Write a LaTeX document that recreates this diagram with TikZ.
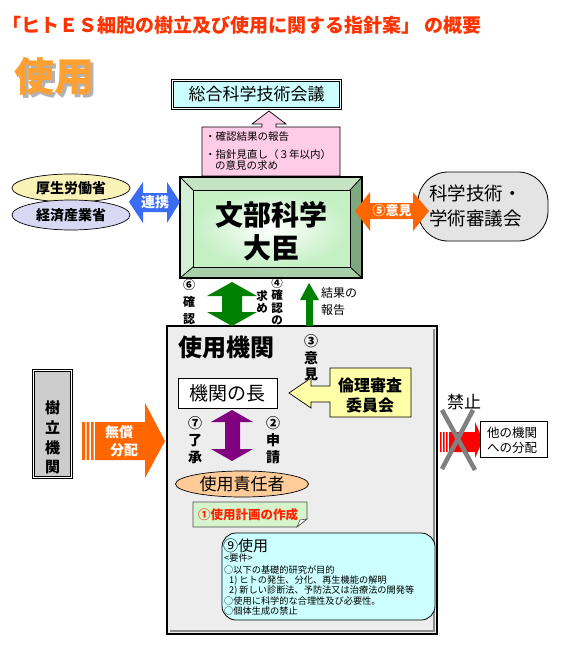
\documentclass[tikz,border=0pt]{standalone}
\usepackage{fontspec}
\setmainfont{Noto Sans CJK JP}
\usetikzlibrary{shapes.geometric}
\newcommand{\fs}[2]{\fontsize{#1}{#2}\selectfont}
\definecolor{titlered}{HTML}{FF3300}
\definecolor{useorange}{HTML}{FFA030}
\definecolor{lightcyan}{HTML}{CCFFFF}
\definecolor{pinkfill}{HTML}{FFCCE8}
\definecolor{yellowell}{HTML}{FAF3B8}
\definecolor{lavell}{HTML}{D8D8F4}
\definecolor{linkblue}{HTML}{3A6CF4}
\definecolor{advorange}{HTML}{FF6600}
\definecolor{marble}{HTML}{E4E4E4}
\definecolor{boxgrey}{HTML}{EDEDED}
\definecolor{darkgreen}{HTML}{008000}
\definecolor{arrowpurple}{HTML}{800080}
\definecolor{calloutyellow}{HTML}{FFFFA8}
\definecolor{peach}{HTML}{FFCC99}
\definecolor{notegreen}{HTML}{D6F4CC}
\definecolor{notered}{HTML}{FF2200}
\definecolor{pillargrey}{HTML}{CCCCCC}
\definecolor{bevtop}{HTML}{C4E4C4}
\definecolor{bevleft}{HTML}{D4F0D4}
\definecolor{bevright}{HTML}{80A880}
\definecolor{bevbottom}{HTML}{A8D0A8}
\definecolor{innergreen}{HTML}{C4F0C4}
\begin{document}
\begin{tikzpicture}[x=1pt,y=-1pt,every node/.style={inner sep=0pt}]
\tikzset{
  thinbox/.style={draw=black,line width=0.7pt},
  vtext/.style={align=center,font=\fs{14}{17}\bfseries},
  whitebold/.style={text=white,font=\fs{14}{18}\bfseries,align=center},
  reqline/.style={anchor=west,font=\fs{9.2}{9.2}},
}
\useasboundingbox[fill=white] (0,0) rectangle (560,650);

% title
\node[anchor=west,text=titlered,font=\fs{19}{19}\bfseries] (title) at (2,25)
  {「ヒトＥＳ細胞の樹立及び使用に関する指針案」\ の概要};

% big heading with shadow (one node)
\node[font=\fs{40}{40}\bfseries] (use) at (54.5,77.5)
  {\makebox[0pt][l]{\raisebox{-3pt}{\hspace{3pt}\textcolor{black!30}{使用}}}\textcolor{useorange}{使用}};

% CSTI box
\node[draw,double,double distance=1.2pt,line width=0.8pt,fill=lightcyan,
      minimum width=168pt,minimum height=28pt,font=\fs{17}{17}] (csti) at (256.5,94.5) {総合科学技術会議};

% pink callout arrow
\path[thinbox,fill=pinkfill] (202,127) -- (262,127) -- (262,124) -- (252,124) -- (269,111)
  -- (286,124) -- (276,124) -- (276,127) -- (340,127) -- (340,176) -- (202,176) -- cycle;
\node[anchor=west,font=\fs{10.5}{10.5}] (rep1) at (205,137) {・確認結果の報告};
\node[anchor=west,font=\fs{10.5}{10.5}] (rep2) at (205,155) {・指針見直し（３年以内）};
\node[anchor=west,font=\fs{10.5}{10.5}] (rep3) at (215,166) {の意見の求め};

% ministries ellipses
\node[ellipse,draw,line width=0.7pt,fill=yellowell,minimum width=118pt,minimum height=28pt,
      font=\fs{14}{14}\bfseries] (mhlw) at (71,188) {厚生労働省};
\node[ellipse,draw,line width=0.7pt,fill=lavell,minimum width=118pt,minimum height=30pt,
      font=\fs{14}{14}\bfseries] (meti) at (71,215) {経済産業省};

% main box (MEXT minister)
\path[fill=bevtop] (180,177) -- (362,177) -- (350,190) -- (193,190) -- cycle;
\path[fill=bevleft] (180,177) -- (193,190) -- (193,267) -- (180,278) -- cycle;
\path[fill=bevright] (362,177) -- (362,278) -- (350,267) -- (350,190) -- cycle;
\path[fill=bevbottom] (180,278) -- (362,278) -- (350,267) -- (193,267) -- cycle;
\shade[inner color=white,outer color=innergreen] (193,190) rectangle (350,267);
\draw[line width=1.4pt] (180,177) rectangle (362,278);
\draw[line width=1pt] (193,190) rectangle (350,267);
\draw[line width=0.8pt] (180,177) -- (193,190) (362,177) -- (350,190)
  (180,278) -- (193,267) (362,278) -- (350,267);
\node[align=center,font=\fs{28}{33}\bfseries] (mext) at (271,231) {文部科学\\大臣};

% liaison arrow
\path[fill=linkblue] (129,202) -- (143,182) -- (143,193) -- (167,193) -- (167,182) -- (180,202)
  -- (167,223) -- (167,212) -- (143,212) -- (143,223) -- cycle;
\node[whitebold] (liaison) at (155,202) {連携};

% council
\node[draw,line width=0.8pt,fill=marble,rounded corners=30pt,minimum width=130pt,minimum height=69pt] (council) at (483,206.5) {};
\node[anchor=west,align=left,font=\fs{18.5}{25}] (counciltext) at (429,206) {科学技術・\\学術審議会};

% opinion arrow
\path[fill=advorange] (355,211) -- (370,192) -- (370,203) -- (413,203) -- (413,192) -- (429,211)
  -- (413,231) -- (413,219) -- (370,219) -- (370,231) -- cycle;
\node[whitebold,font=\fs{13}{13}\bfseries] (op5) at (392,211) {⑤意見};

% using institution box
\path[fill=boxgrey] (167,326) rectangle (437,634);
\draw[black!45,line width=1.5pt] (434,329) -- (434,631) -- (170,631);
\draw[line width=2.4pt] (167,326) rectangle (437,634);
\node[font=\fs{24}{24}\bfseries] (inst) at (226,347) {使用機関};

% green double arrow
\path[fill=darkgreen] (232,282) -- (257,296) -- (242,296) -- (242,312) -- (257,312) -- (232,326)
  -- (207,312) -- (222,312) -- (222,296) -- (207,296) -- cycle;
\node[vtext,font=\fs{12}{17}\bfseries] (conf6) at (189,302) {⑥\\確\\認};
\node[vtext,font=\fs{11.5}{12.3}\bfseries] (req4) at (277,301.5) {④\\確\\認\\の};
\node[vtext,font=\fs{11.5}{12}\bfseries] (req4b) at (262,302) {求\\め};

% green single arrow
\path[fill=darkgreen] (309,283) -- (319,300) -- (313,300) -- (313,326) -- (306,326) -- (306,300) -- (300,300) -- cycle;
\node[anchor=west,align=left,font=\fs{12}{17}] (result) at (321,301.5) {結果の\\報告};

% opinion 3
\node[vtext,font=\fs{14}{16.5}\bfseries] (op3) at (311,358) {③\\意\\見};

% ethics committee callout
\path[thinbox,fill=calloutyellow] (330,368) -- (411,368) -- (411,417) -- (330,417) -- (330,402)
  -- (311,402) -- (311,408) -- (289,393) -- (311,378) -- (311,386) -- (330,386) -- cycle;
\node[align=center,font=\fs{16}{20}\bfseries] (ethics) at (370,395) {倫理審査\\委員会};

% head of institution
\node[thinbox,fill=white,minimum width=99pt,minimum height=30pt,font=\fs{19}{19}] (head) at (227.5,393) {機関の長};

% purple double arrow
\path[fill=arrowpurple] (232,410) -- (253,422) -- (240,422) -- (240,449) -- (253,449) -- (232,461)
  -- (211,449) -- (225,449) -- (225,422) -- (211,422) -- cycle;
\node[vtext] (ack7) at (195,440) {⑦\\了\\承};
\node[vtext] (app2) at (273,440) {②\\申\\請};

% responsible person
\node[ellipse,thinbox,fill=peach,minimum width=133pt,minimum height=26pt,font=\fs{17}{17}] (resp) at (242,484) {使用責任者};

% plan note
\path[draw=black!70,line width=0.6pt,fill=notegreen] (193,502) -- (307,502) -- (307,519) -- (297,527) -- (193,527) -- cycle;
\path[draw=black!70,line width=0.6pt,fill=white] (297,527) -- (300,520) -- (307,519) -- cycle;
\node[text=notered,font=\fs{12.5}{12.5}\bfseries] (plan) at (248,514.5) {①使用計画の作成};

% use conditions box
\draw[line width=0.8pt,fill=lightcyan,rounded corners=14pt] (222,533) rectangle (435,620);
\node[anchor=west,font=\fs{15}{15}] (use9) at (223,546) {⑨使用};
\node[reqline] (r1) at (224,558) {<要件>};
\node[reqline] (r2) at (224,569.5) {○以下の基礎的研究が目的};
\node[reqline] (r3) at (229,580.5) {1) ヒトの発生、分化、再生機能の解明};
\node[reqline] (r4) at (229,591) {2) 新しい診断法、予防法又は治療法の開発等};
\node[reqline] (r5) at (224,601) {○使用に科学的な合理性及び必要性。};
\node[reqline] (r6) at (224,611.5) {○個体生成の禁止};

% establishing institution
\node[draw,double,double distance=1.2pt,line width=0.7pt,fill=pillargrey,
      minimum width=38pt,minimum height=107pt] (estab) at (52.5,424) {};
\node[align=center,font=\fs{15}{19.7}\bfseries] (estabtext) at (52.5,437.5) {樹\\立\\機\\関};

% free distribution arrow
\path[fill=advorange] (82,422) rectangle (85,460) (86.7,422) rectangle (89.3,460) (91,422) rectangle (93.7,460);
\path[fill=advorange] (95,422) -- (145,422) -- (145,403) -- (165,441) -- (145,478) -- (145,460) -- (95,460) -- cycle;
\node[whitebold] (free1) at (119,432) {無償};
\node[whitebold] (free2) at (124,450) {分配};

% prohibition
\node[font=\fs{17}{17}] (ban) at (464,402) {禁止};
\path[fill=red] (440,432) rectangle (441.7,452) (443,432) rectangle (444.7,452) (446,432) rectangle (447.7,452);
\path[fill=red] (449,432) -- (475,432) -- (475,422) -- (483,440) -- (475,458) -- (475,452) -- (449,452) -- cycle;
\draw[black!50,line width=4.5pt] (442,410) -- (475,470) (473,410) -- (442,469);
\node[thinbox,fill=white,minimum width=67pt,minimum height=36pt] (other) at (513.5,439) {};
\node[anchor=west,align=left,font=\fs{12.5}{15}] (othertext) at (487,440) {他の機関\\への分配};
\end{tikzpicture}
\end{document}
